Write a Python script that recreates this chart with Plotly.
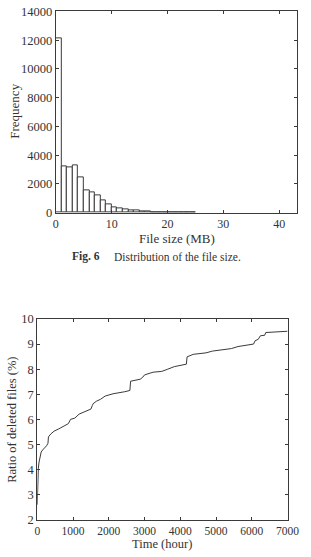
import plotly.graph_objects as go

W, H = 311, 557

# ---- Data: histogram (Fig. 6) ----
file_size_bins = [i + 0.5 for i in range(25)]  # bin centers, MB (bin width 1 MB)
frequency = [12100, 3220, 3170, 3260, 2470, 1520, 1430, 1180, 860, 545,
             360, 270, 205, 180, 135, 90, 70, 50, 40, 30, 22, 15, 10, 8, 5]
hist_xticks = [0, 10, 20, 30, 40]
hist_yticks = [0, 2000, 4000, 6000, 8000, 10000, 12000, 14000]

# ---- Data: ratio of deleted files over time ----
time_hour = [0, 5, 15, 30, 50, 80, 110, 150, 200, 260, 300, 312, 380, 470, 600,
             780, 870, 930, 1050, 1170, 1320, 1500, 1540, 1560, 1650, 1770, 1900,
             2120, 2440, 2590, 2610, 2880, 2950, 3000, 3240, 3480, 3650, 3830,
             4170, 4190, 4360, 4720, 4900, 5430, 5610, 6050, 6090, 6180, 6240,
             6360, 6390, 6670, 7000]
ratio_pct = [2.6, 3.3, 3.8, 4.05, 4.3, 4.55, 4.7, 4.78, 4.85, 4.95, 5.05, 5.3,
             5.42, 5.53, 5.62, 5.76, 5.83, 6.0, 6.05, 6.21, 6.3, 6.41, 6.55, 6.62,
             6.72, 6.8, 6.93, 7.02, 7.1, 7.15, 7.52, 7.6, 7.68, 7.77, 7.88, 7.91,
             8.0, 8.1, 8.2, 8.49, 8.59, 8.65, 8.72, 8.82, 8.9, 9.0, 9.13, 9.19,
             9.33, 9.35, 9.46, 9.48, 9.51]
line_xticks = [0, 1000, 2000, 3000, 4000, 5000, 6000, 7000]
line_yticks = [2, 3, 4, 5, 6, 7, 8, 9, 10]

FONT = "Liberation Serif, Times New Roman, serif"
AX = "#3a3a3a"
TXT = "#333333"

def px_x(p):
    return p / W

def px_y(p):
    return 1 - p / H

fig = go.Figure()
fig.add_trace(go.Bar(x=file_size_bins, y=frequency, width=1,
                     marker=dict(color="white", line=dict(color=AX, width=1)),
                     xaxis="x", yaxis="y", showlegend=False))
fig.add_trace(go.Scatter(x=time_hour, y=ratio_pct, mode="lines",
                         line=dict(color=AX, width=1),
                         xaxis="x2", yaxis="y2", showlegend=False))

def axis(ticks, size):
    return dict(showline=True, linecolor=AX, linewidth=1, mirror="ticks",
                ticks="inside", ticklen=3, tickcolor=AX, showgrid=False,
                zeroline=False, tickvals=ticks, ticktext=[str(t) for t in ticks],
                ticklabeloverflow="allow",
                tickfont=dict(family=FONT, size=size, color=TXT))

fig.update_layout(
    width=W, height=H, margin=dict(l=0, r=0, t=0, b=0),
    paper_bgcolor="white", plot_bgcolor="white",
    bargap=0,
    xaxis=dict(domain=[px_x(55.5), px_x(309)], range=[0, 43.2], anchor="y",
               **axis(hist_xticks, 12)),
    yaxis=dict(domain=[px_y(211), px_y(4.5)], range=[0, 14000], anchor="x",
               **axis(hist_yticks, 12.5)),
    xaxis2=dict(domain=[px_x(36), px_x(299)], range=[0, 7000], anchor="y2",
                **axis(line_xticks, 11.5)),
    yaxis2=dict(domain=[px_y(526), px_y(320)], range=[2, 10], anchor="x2",
                **axis(line_yticks, 12.5)),
)

def ann(text, x, y, size, xanchor="center", angle=0):
    fig.add_annotation(text=text, x=px_x(x), y=px_y(y), xref="paper", yref="paper",
                       showarrow=False, xanchor=xanchor, yanchor="middle",
                       textangle=angle, font=dict(family=FONT, size=size, color=TXT))

ann("File size (MB)", 183, 237, 13)
ann("Frequency", 12, 107, 13, angle=-90)
ann("<b>Fig. 6</b>", 70, 256, 11.5, xanchor="left")
ann("Distribution of the file size.", 115, 256, 11.5, xanchor="left")
ann("Time (hour)", 167, 551, 12.5)
ann("Ratio of deleted files (%)", 10, 424, 12.5, angle=-90)

fig.write_html("out.html")
